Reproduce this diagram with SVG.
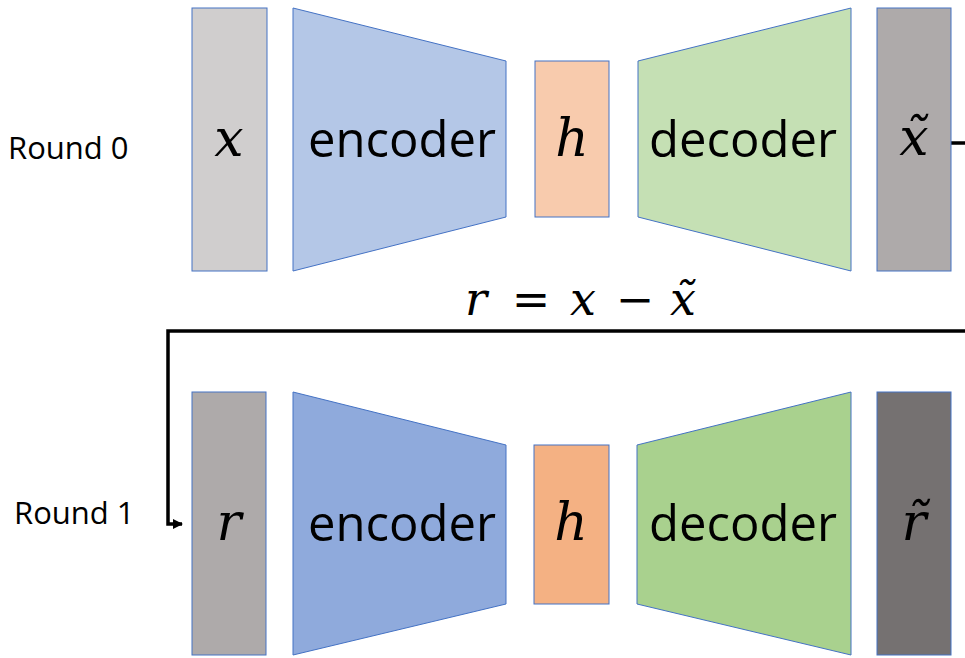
<svg xmlns="http://www.w3.org/2000/svg" width="965" height="658" viewBox="0 0 965 658">
<style>
.sh{stroke:#4472C4;stroke-width:1}
.lbl{font-family:"Open Sans","Liberation Sans",sans-serif;font-size:49px;fill:#000;text-anchor:middle}
.rnd{font-family:"Open Sans","Liberation Sans",sans-serif;font-size:31px;fill:#000}
.m{font-family:"DejaVu Serif","Liberation Serif",serif;font-style:italic;font-size:52px;fill:#000;text-anchor:middle}
.mo{font-family:"DejaVu Serif","Liberation Serif",serif;font-size:46px;fill:#000;text-anchor:middle}
.conn{fill:none;stroke:#000;stroke-width:3.5}
</style>
<defs>
<marker id="ah" markerWidth="10" markerHeight="10" refX="9" refY="5" orient="auto" markerUnits="userSpaceOnUse">
<path d="M0,0 L10,5 L0,10 z" fill="#000"/>
</marker>
</defs>
<rect width="965" height="658" fill="#fff"/>
<g id="connectors">
<path class="conn" d="M951,143 H975 V331 H168 V524 H182" marker-end="url(#ah)"/>
</g>
<g id="round0-label"><text class="rnd" x="8" y="159">Round 0</text></g>
<g id="round1-label"><text class="rnd" x="14" y="524">Round 1</text></g>
<g id="x0"><rect class="sh" x="192" y="8" width="75" height="263" fill="#D0CECE"/><text class="m" x="229" y="156">x</text></g>
<g id="enc0"><polygon class="sh" points="293,8 506,61 506,217 293,271" fill="#B4C7E7"/><text class="lbl" x="402" y="157">encoder</text></g>
<g id="h0"><rect class="sh" x="535" y="61" width="74" height="156" fill="#F8CBAD"/><text class="m" x="572" y="156">h</text></g>
<g id="dec0"><polygon class="sh" points="638,61 851,8 851,271 638,217" fill="#C5E0B4"/><text class="lbl" x="743" y="157">decoder</text></g>
<g id="xt0"><rect class="sh" x="877" y="8" width="74" height="263" fill="#AEAAAA"/><text class="m" x="914" y="155">x&#x303;</text></g>
<g id="formula">
<text class="m" x="476" y="315" style="font-size:46px">r</text>
<text class="mo" x="531" y="315">=</text>
<text class="m" x="583" y="315" style="font-size:46px">x</text>
<text class="mo" x="635" y="315">&#x2212;</text>
<text class="m" x="683" y="315" style="font-size:46px">x&#x303;</text>
</g>
<g id="r1"><rect class="sh" x="192" y="392" width="74" height="263" fill="#AEAAAA"/><text class="m" x="229" y="540">r</text></g>
<g id="enc1"><polygon class="sh" points="293,392 506,445 506,604 293,655" fill="#8FAADC"/><text class="lbl" x="402" y="541">encoder</text></g>
<g id="h1"><rect class="sh" x="534" y="445" width="75" height="159" fill="#F4B183"/><text class="m" x="571" y="540">h</text></g>
<g id="dec1"><polygon class="sh" points="637,445 851,392 851,655 637,604" fill="#A9D18E"/><text class="lbl" x="743" y="541">decoder</text></g>
<g id="rt1"><rect class="sh" x="877" y="392" width="74" height="263" fill="#757171"/><text class="m" x="914" y="540">r&#x303;</text></g>
</svg>
